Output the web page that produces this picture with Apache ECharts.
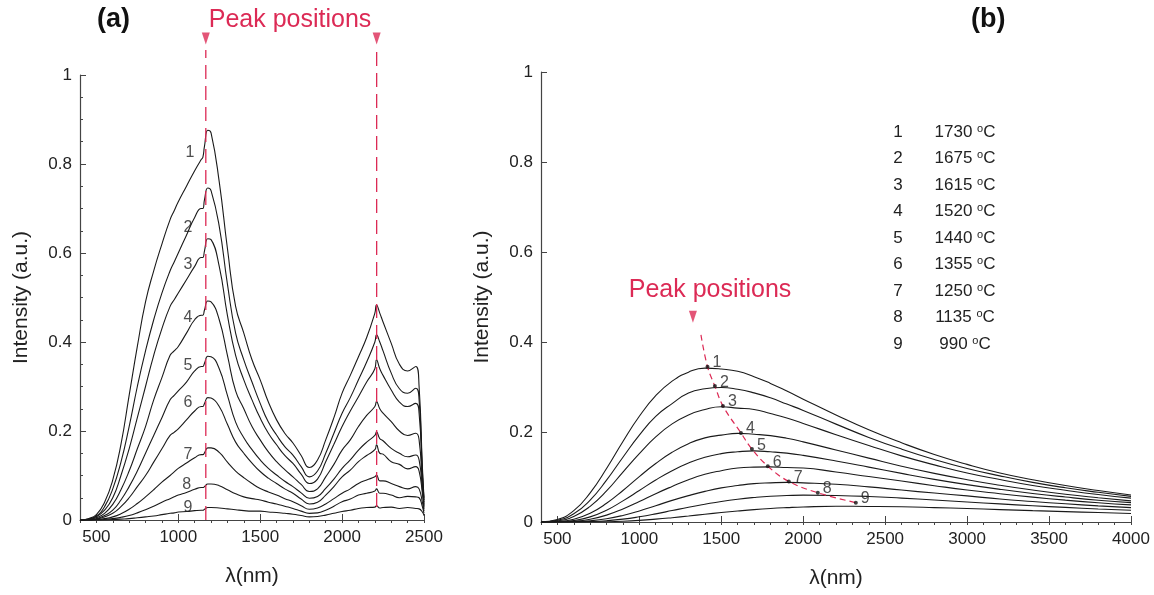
<!DOCTYPE html>
<html>
<head>
<meta charset="utf-8">
<script src="https://cdn.jsdelivr.net/npm/echarts@6/dist/echarts.min.js"></script>
<style>
html,body{margin:0;padding:0;background:#fff;}
#c{width:1154px;height:595px;}
</style>
</head>
<body>
<div id="c"></div>
<script>
// ---------- Panel (a): measured spectra ----------
const lamA = [400,450,500,550,600,650,700,750,800,850,
  900,950,975,1000,1050,1100,1140,1150,1160,1180,
  1200,1250,1300,1350,1400,1450,1500,1550,1600,1650,
  1700,1750,1800,1850,1900,1950,2000,2050,2100,2150,
  2200,2210,2230,2250,2300,2350,2400,2450,2470,2490,
  2500];
const a1 = [0,0.003,0.012,0.04,0.09,0.17,0.28,0.39,0.49,0.56,
  0.62,0.675,0.695,0.715,0.75,0.785,0.81,0.815,0.84,0.876,
  0.87,0.76,0.61,0.48,0.42,0.36,0.315,0.265,0.225,0.195,
  0.173,0.145,0.118,0.135,0.18,0.23,0.285,0.325,0.367,0.41,
  0.465,0.483,0.465,0.445,0.397,0.35,0.335,0.345,0.30,0.12,
  0.05];
const a2 = [0,0.002,0.009,0.03,0.07,0.13,0.21,0.30,0.38,0.45,
  0.51,0.56,0.58,0.60,0.64,0.68,0.70,0.70,0.72,0.746,
  0.74,0.66,0.53,0.42,0.36,0.31,0.262,0.22,0.191,0.165,
  0.146,0.12,0.097,0.11,0.15,0.195,0.24,0.275,0.315,0.355,
  0.40,0.416,0.40,0.38,0.33,0.295,0.285,0.296,0.27,0.11,
  0.045];
const a3 = [0,0.001,0.007,0.022,0.05,0.10,0.16,0.23,0.30,0.37,
  0.43,0.48,0.495,0.51,0.54,0.57,0.59,0.59,0.605,0.632,
  0.63,0.57,0.46,0.37,0.315,0.27,0.229,0.195,0.169,0.145,
  0.127,0.103,0.082,0.092,0.131,0.17,0.21,0.245,0.277,0.31,
  0.34,0.36,0.34,0.325,0.292,0.265,0.255,0.262,0.24,0.10,
  0.04];
const a4 = [0,0.001,0.005,0.015,0.035,0.068,0.11,0.16,0.21,0.27,
  0.32,0.37,0.38,0.39,0.42,0.45,0.46,0.46,0.472,0.492,
  0.49,0.45,0.37,0.29,0.25,0.21,0.18,0.153,0.131,0.113,
  0.097,0.08,0.064,0.07,0.097,0.125,0.157,0.18,0.21,0.235,
  0.255,0.266,0.25,0.24,0.221,0.20,0.19,0.195,0.18,0.08,
  0.035];
const a5 = [0,0,0.003,0.01,0.022,0.045,0.075,0.11,0.15,0.19,
  0.23,0.27,0.28,0.29,0.31,0.335,0.345,0.345,0.352,0.368,
  0.367,0.34,0.28,0.22,0.185,0.158,0.135,0.116,0.101,0.087,
  0.075,0.061,0.049,0.053,0.071,0.092,0.116,0.135,0.157,0.175,
  0.19,0.198,0.183,0.178,0.161,0.15,0.142,0.146,0.135,0.07,
  0.03];
const a6 = [0,0,0.002,0.007,0.015,0.03,0.05,0.075,0.10,0.13,
  0.16,0.19,0.197,0.205,0.225,0.245,0.255,0.255,0.262,0.275,
  0.274,0.255,0.215,0.175,0.15,0.128,0.109,0.094,0.082,0.07,
  0.06,0.047,0.036,0.04,0.056,0.075,0.097,0.112,0.131,0.145,
  0.158,0.169,0.15,0.148,0.131,0.125,0.115,0.12,0.11,0.06,
  0.025];
const a7 = [0,0,0.001,0.003,0.007,0.014,0.024,0.037,0.052,0.068,
  0.085,0.10,0.108,0.116,0.128,0.14,0.147,0.147,0.151,0.162,
  0.162,0.152,0.13,0.11,0.095,0.082,0.071,0.063,0.056,0.048,
  0.041,0.032,0.024,0.027,0.036,0.048,0.06,0.07,0.082,0.09,
  0.097,0.101,0.088,0.088,0.082,0.075,0.07,0.075,0.07,0.04,
  0.02];
const a8 = [0,0,0,0.001,0.003,0.006,0.01,0.016,0.023,0.031,
  0.04,0.048,0.052,0.056,0.062,0.069,0.073,0.073,0.075,0.081,
  0.081,0.077,0.068,0.059,0.052,0.048,0.045,0.04,0.036,0.031,
  0.026,0.02,0.015,0.016,0.022,0.031,0.041,0.047,0.056,0.06,
  0.065,0.07,0.06,0.06,0.056,0.05,0.053,0.052,0.05,0.03,
  0.015];
const a9 = [0,0,0,0,0.001,0.002,0.003,0.005,0.007,0.009,
  0.012,0.015,0.016,0.018,0.019,0.021,0.022,0.022,0.024,0.028,
  0.028,0.027,0.025,0.023,0.021,0.02,0.02,0.018,0.017,0.015,
  0.013,0.01,0.007,0.008,0.011,0.015,0.019,0.022,0.026,0.028,
  0.029,0.032,0.027,0.028,0.029,0.026,0.028,0.026,0.025,0.018,
  0.01];
const seriesA = [a1,a2,a3,a4,a5,a6,a7,a8,a9];
const curveNames = ['1','2','3','4','5','6','7','8','9'];
// curve number labels in panel (a): [lambda, intensity]
const labelPosA = [[1071,0.825],[1059,0.658],[1059,0.573],[1059,0.454],[1059,0.348],[1059,0.263],[1059,0.146],[1052,0.079],[1059,0.029]];
// peak position markers in panel (a)
const peaksA = [1168, 2211];
const peakTopsA = [1.056, 1.06];
const peakBottomsA = [0, 0.029];

// ---------- Panel (b): blackbody curves ----------
const lamB = [400,500,600,700,800,900,1000,1100,1200,1300,1400,1500,1600,1700,1800,1900,2000,2200,2400,2600,2800,3000,3200,3400,3600,3800,4000];
const b1 = [0.0005,0.0057,0.0252,0.0648,0.119,0.179,0.235,0.2806,0.313,0.333,0.342,0.340,0.335,0.323,0.308,0.291,0.273,0.238,0.205,0.176,0.150,0.128,0.109,0.094,0.081,0.070,0.060];
const b2 = [0.0003,0.0039,0.0182,0.0487,0.093,0.144,0.193,0.2346,0.263,0.2865,0.296,0.299,0.295,0.287,0.276,0.262,0.248,0.2175,0.188,0.162,0.139,0.119,0.1025,0.088,0.076,0.066,0.057];
const b3 = [0.0002,0.0025,0.0123,0.0348,0.069,0.111,0.152,0.189,0.218,0.238,0.250,0.256,0.253,0.250,0.241,0.231,0.219,0.194,0.170,0.147,0.127,0.109,0.0944,0.081,0.0705,0.061,0.053];
const b4 = [0.0001,0.0011,0.0062,0.0194,0.0416,0.070,0.101,0.130,0.155,0.174,0.187,0.193,0.197,0.195,0.192,0.186,0.178,0.160,0.142,0.124,0.108,0.094,0.0818,0.071,0.0617,0.054,0.047];
const b5 = [0,0.0005,0.0033,0.0114,0.0262,0.047,0.070,0.0934,0.114,0.131,0.144,0.152,0.156,0.158,0.156,0.153,0.148,0.1356,0.122,0.108,0.0948,0.083,0.0726,0.0634,0.0555,0.0485,0.043];
const b6 = [0,0.0002,0.0016,0.0062,0.0153,0.029,0.0455,0.063,0.079,0.094,0.106,0.114,0.120,0.122,0.1225,0.121,0.120,0.111,0.101,0.091,0.0807,0.071,0.0629,0.0553,0.0486,0.0428,0.038];
const b7 = [0,0.0001,0.0006,0.0026,0.0071,0.0146,0.0246,0.0362,0.048,0.0586,0.068,0.0758,0.081,0.0852,0.087,0.088,0.087,0.0838,0.078,0.071,0.0643,0.058,0.0512,0.0456,0.0404,0.0358,0.032];
const b8 = [0,0,0.0002,0.0009,0.0028,0.0063,0.0116,0.0181,0.0254,0.0328,0.0395,0.0457,0.0507,0.0545,0.0573,0.0588,0.0597,0.059,0.0568,0.0531,0.0488,0.0445,0.0402,0.0361,0.0324,0.029,0.026];
const b9 = [0,0,0,0.0002,0.0006,0.0017,0.0036,0.0063,0.0096,0.0133,0.0173,0.021,0.0244,0.0275,0.030,0.0319,0.0334,0.0349,0.0346,0.0338,0.032,0.0299,0.0276,0.0253,0.0231,0.021,0.019];
const seriesB = [b1,b2,b3,b4,b5,b6,b7,b8,b9];
const peakLamB = [1416,1461,1510,1620,1687,1784,1912,2089,2321];
const peakValB = [0.345,0.302,0.258,0.198,0.162,0.124,0.090,0.065,0.043];
const dashStartB = [1376, 0.416];
const arrowB = [1327, 0.456];
const temps = ['1730','1675','1615','1520','1440','1355','1250','1135','990'];

// tick labels
const xTicksA = [500,1000,1500,2000,2500];
const xTicksB = [500,1000,1500,2000,2500,3000,3500,4000];

const RED = '#dc2a55';
const INK = '#222';
const FONT = "'Liberation Sans', Arial, Helvetica, sans-serif";

const chart = echarts.init(document.getElementById('c'));

function zip(xs, ys){ return xs.map((x,i)=>[x, ys[i]]); }

const series = [];
seriesA.forEach((arr,i)=>{
  series.push({type:'line', xAxisIndex:0, yAxisIndex:0, data: zip(lamA, arr), showSymbol:false, symbol:'none',
    smooth:0.5, lineStyle:{color:'#1a1a1a', width:1.1}, silent:true, z:3});
});
peaksA.forEach((p,i)=>{
  series.push({type:'line', xAxisIndex:0, yAxisIndex:0, clip:false, symbol:'none', silent:true, z:4,
    data:[[p, peakBottomsA[i]],[p, peakTopsA[i]]], lineStyle:{color:RED, width:1.3, type:[14,7]}});
});
series.push({type:'scatter', xAxisIndex:0, yAxisIndex:0, clip:false, silent:true, z:5,
  symbol:'triangle', symbolRotate:180, symbolSize:[8,12], itemStyle:{color:RED},
  data: peaksA.map(p=>[p, 1.082])});
series.push({type:'scatter', xAxisIndex:0, yAxisIndex:0, clip:false, silent:true, z:6,
  symbolSize:0,
  data: labelPosA.map((p,i)=>({value:p, name:curveNames[i]})),
  label:{show:true, position:'inside', formatter:'{b}', color:INK, fontSize:16, fontFamily:FONT}});

seriesB.forEach((arr,i)=>{
  series.push({type:'line', xAxisIndex:2, yAxisIndex:1, data: zip(lamB, arr), showSymbol:false, symbol:'none',
    smooth:0.5, lineStyle:{color:'#1a1a1a', width:1.1}, silent:true, z:3});
});
series.push({type:'line', xAxisIndex:2, yAxisIndex:1, symbol:'none', silent:true, smooth:0.4, z:4,
  data:[dashStartB].concat(zip(peakLamB, peakValB)), lineStyle:{color:RED, width:1.2, type:[6,4]}});
series.push({type:'scatter', xAxisIndex:2, yAxisIndex:1, silent:true, z:6, symbolSize:4,
  itemStyle:{color:'#111'},
  data: zip(peakLamB, peakValB).map((p,i)=>({value:p, name:curveNames[i]})),
  label:{show:true, position:'right', distance:3, offset:[0,-4], formatter:'{b}', color:INK, fontSize:16, fontFamily:FONT}});
series.push({type:'scatter', xAxisIndex:2, yAxisIndex:1, clip:false, silent:true, z:5,
  symbol:'triangle', symbolRotate:180, symbolSize:[8,12], itemStyle:{color:RED},
  data:[arrowB]});

const plain = v => String(v);

function mainX(grid, max, ticks){
  return {gridIndex:grid, type:'value', min:400, max:max,
    axisLine:{show:true, onZero:false, lineStyle:{color:'#444', width:1.2}},
    axisTick:{show:true, inside:true, length:6, customValues:ticks, lineStyle:{color:'#444'}},
    axisLabel:{show:true, customValues:ticks, formatter:plain, margin:9, fontSize:17, color:INK, fontFamily:FONT},
    splitLine:{show:false},
    name:'λ(nm)', nameLocation:'middle', nameGap:46,
    nameTextStyle:{fontSize:21, color:INK, fontFamily:FONT}};
}
function minorX(grid, max){
  return {gridIndex:grid, type:'value', min:400, max:max, interval:100,
    axisLine:{show:false}, axisTick:{show:true, inside:true, length:3, lineStyle:{color:'#444'}},
    axisLabel:{show:false}, splitLine:{show:false}};
}
function yAx(grid, minor){
  return {gridIndex:grid, type:'value', min:0, max:1, interval:0.2,
    axisLine:{show:true, onZero:false, lineStyle:{color:'#444', width:1.2}},
    axisTick:{show:true, inside:true, length:6, lineStyle:{color:'#444'}},
    minorTick:{show:minor, splitNumber:4, length:3, lineStyle:{color:'#444'}},
    axisLabel:{fontSize:17, margin:8, color:INK, fontFamily:FONT, formatter:plain},
    splitLine:{show:false}, minorSplitLine:{show:false},
    name:'Intensity (a.u.)', nameLocation:'middle', nameGap:48,
    nameTextStyle:{fontSize:21, color:INK, fontFamily:FONT}};
}

const graphic = [
  {type:'text', left:97, top:6, style:{text:'(a)', font:"bold 27px "+FONT, fill:'#111'}},
  {type:'text', left:971, top:6, style:{text:'(b)', font:"bold 27px "+FONT, fill:'#111'}},
  {type:'text', x:290, y:20, style:{text:'Peak positions', font:"25px "+FONT, fill:RED, textAlign:'center', textVerticalAlign:'middle'}},
  {type:'text', x:710, y:290, style:{text:'Peak positions', font:"25px "+FONT, fill:RED, textAlign:'center', textVerticalAlign:'middle'}}
];
temps.forEach((t,i)=>{
  const y = 132 + i*26.5;
  graphic.push({type:'text', x:898, y:y, style:{text:curveNames[i], font:"17px "+FONT, fill:INK, textAlign:'center', textVerticalAlign:'middle'}});
  graphic.push({type:'text', x:965, y:y, style:{text:t+' {s|o}C', font:"17px "+FONT, fill:INK, textAlign:'center', textVerticalAlign:'middle',
    rich:{s:{fontSize:11, fontFamily:FONT, fill:INK, verticalAlign:'top', padding:[0,0,7,0]}}}});
});

chart.setOption({
  animation:false,
  backgroundColor:'#fff',
  textStyle:{fontFamily:FONT},
  grid:[{left:80, top:75, width:344, height:445}, {left:541, top:72, width:590, height:450}],
  xAxis:[mainX(0,2500,xTicksA), minorX(0,2500), mainX(1,4000,xTicksB), minorX(1,4000)],
  yAxis:[yAx(0,true), yAx(1,false)],
  series: series,
  graphic: graphic
});
</script>
</body>
</html>
